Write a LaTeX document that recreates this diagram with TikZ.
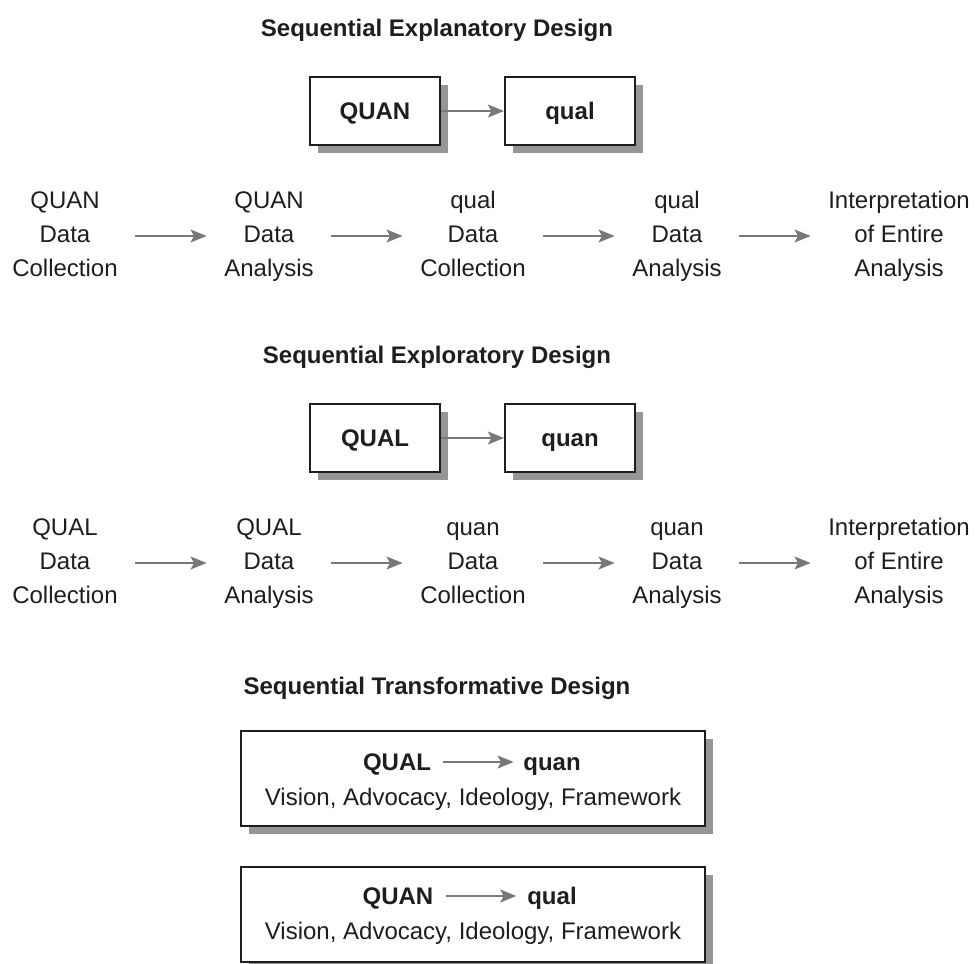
\documentclass[tikz,border=0pt]{standalone}
\usepackage{fontspec}
\setmainfont{Liberation Sans}
\usetikzlibrary{arrows.meta,shadows}
\definecolor{ink}{RGB}{30,30,30}
\definecolor{arrowgray}{RGB}{120,120,120}
\definecolor{shadowgray}{RGB}{150,150,150}
\newcommand{\rowline}[1]{\strut#1}
\tikzset{
  txt/.style={font=\fontsize{18}{25.5}\selectfont, text=ink, inner sep=0pt, align=center},
  capline/.style={text height=12.9pt, text depth=0pt},
  ttl/.style={txt, capline, font=\fontsize{18}{25.5}\selectfont\bfseries},
  flow/.style={draw=arrowgray, line width=2.2pt, -{Stealth[length=12pt,width=9.5pt,inset=2.5pt]}},
  stepflow/.style={flow, shorten <=13pt, shorten >=13pt},
  shadowbox/.style={draw=ink, line width=1.4pt, fill=white, inner sep=0pt,
    drop shadow={shadow xshift=6pt, shadow yshift=-6pt, fill=shadowgray, opacity=1}},
  smallbox/.style={shadowbox, capline, minimum width=97.5pt, minimum height=51pt,
    font=\fontsize{18}{25.5}\selectfont\bfseries, text=ink},
  widebox/.style={shadowbox, minimum width=348pt, minimum height=71.25pt}
}
\begin{document}
\begin{tikzpicture}[x=0.75pt, y=-0.75pt]
\useasboundingbox (0,0) rectangle (976,964);

% ---- Sequential Explanatory Design ----
\node[ttl] (t1) at (437,28) {Sequential Explanatory Design};
\node[smallbox] (b1a) at (375,111) {QUAN};
\node[smallbox] (b1b) at (570,111) {qual};
\draw[flow] (b1a) -- (b1b);

\node[txt] (r1a) at (65,236) {\rowline{QUAN}\\\rowline{Data}\\\rowline{Collection}};
\node[txt] (r1b) at (269,236) {\rowline{QUAN}\\\rowline{Data}\\\rowline{Analysis}};
\node[txt] (r1c) at (473,236) {\rowline{qual}\\\rowline{Data}\\\rowline{Collection}};
\node[txt] (r1d) at (677,236) {\rowline{qual}\\\rowline{Data}\\\rowline{Analysis}};
\node[txt] (r1e) at (899,236) {\rowline{Interpretation}\\\rowline{of Entire}\\\rowline{Analysis}};
\draw[stepflow] (r1a) -- (r1b);
\draw[stepflow] (r1b) -- (r1c);
\draw[stepflow] (r1c) -- (r1d);
\draw[stepflow] (r1d) -- (r1e);

% ---- Sequential Exploratory Design ----
\node[ttl] (t2) at (437,355) {Sequential Exploratory Design};
\node[smallbox] (b2a) at (375,438) {QUAL};
\node[smallbox] (b2b) at (570,438) {quan};
\draw[flow] (b2a) -- (b2b);

\node[txt] (r2a) at (65,563) {\rowline{QUAL}\\\rowline{Data}\\\rowline{Collection}};
\node[txt] (r2b) at (269,563) {\rowline{QUAL}\\\rowline{Data}\\\rowline{Analysis}};
\node[txt] (r2c) at (473,563) {\rowline{quan}\\\rowline{Data}\\\rowline{Collection}};
\node[txt] (r2d) at (677,563) {\rowline{quan}\\\rowline{Data}\\\rowline{Analysis}};
\node[txt] (r2e) at (899,563) {\rowline{Interpretation}\\\rowline{of Entire}\\\rowline{Analysis}};
\draw[stepflow] (r2a) -- (r2b);
\draw[stepflow] (r2b) -- (r2c);
\draw[stepflow] (r2c) -- (r2d);
\draw[stepflow] (r2d) -- (r2e);

% ---- Sequential Transformative Design ----
\node[ttl] (t3) at (437,686) {Sequential Transformative Design};

\node[widebox] (b3) at (473,778.5) {};
\node[ttl] (b3a) at (397,762) {QUAL};
\node[ttl] (b3b) at (552,762) {quan};
\draw[flow, shorten <=9pt, shorten >=7pt] (b3a) -- (b3b);
\node[txt, capline] (b3c) at (473,797) {Vision, Advocacy, Ideology, Framework};

\node[widebox] (b4) at (473,914.5) {};
\node[ttl] (b4a) at (398,896) {QUAN};
\node[ttl] (b4b) at (552,896) {qual};
\draw[flow, shorten <=9pt, shorten >=8pt] (b4a) -- (b4b);
\node[txt, capline] (b4c) at (473,931) {Vision, Advocacy, Ideology, Framework};
\end{tikzpicture}
\end{document}
